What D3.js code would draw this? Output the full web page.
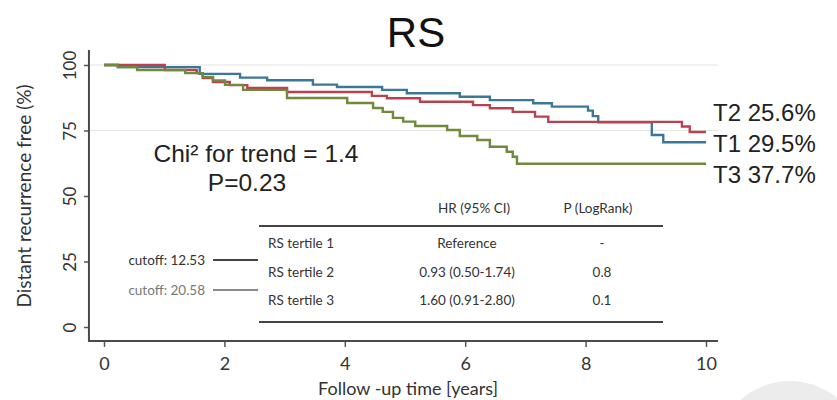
<!DOCTYPE html>
<html>
<head>
<meta charset="utf-8">
<script src="https://cdn.jsdelivr.net/npm/d3@7"></script>
<style>
  html, body { margin: 0; padding: 0; background: #ffffff; }
  svg { display: block; }
</style>
</head>
<body>
<svg id="chart" width="837" height="400"></svg>
<script>
// Kaplan-Meier step curves: event times (years) and survival (%) after each step
const t1Times = [0, 0.23, 1.59, 2.26, 2.71, 3.47, 3.87, 4.62, 5.03, 5.91, 6.41, 7.13, 7.44, 8.04, 8.12, 8.21, 9.10, 9.29, 10];
const t1Surv  = [100, 99.2, 96.6, 95.2, 94.2, 92.5, 91.6, 90.5, 89.2, 87.9, 86.6, 85.4, 84.1, 82.6, 80.5, 78.1, 73.3, 70.5, 70.5];

const t2Times = [0, 1.01, 1.54, 1.64, 1.81, 2.09, 2.38, 3.04, 4.45, 4.70, 5.25, 6.13, 6.41, 6.79, 7.16, 7.38, 9.60, 9.73, 10];
const t2Surv  = [100, 98.1, 96.9, 95.0, 93.5, 92.3, 91.2, 89.7, 88.2, 87.3, 86.0, 84.7, 83.5, 82.1, 80.3, 78.3, 76.5, 74.4, 74.4];

const t3Times = [0, 0.23, 0.55, 1.35, 1.64, 1.81, 2.01, 2.31, 3.04, 4.04, 4.47, 4.63, 4.80, 4.97, 5.17, 5.70, 5.91, 6.20, 6.41, 6.69, 6.79, 6.86, 10];
const t3Surv  = [100, 99.2, 98.1, 96.9, 95.4, 94.1, 92.4, 90.5, 87.4, 85.5, 83.6, 82.1, 79.8, 78.4, 76.7, 75.2, 72.9, 71.4, 68.8, 66.9, 65.0, 62.3, 62.3];

// End-of-curve labels (10-year recurrence)
const endLabels = ["T2 25.6%", "T1 29.5%", "T3 37.7%"];

// Axis ticks
const xTicks = [0, 2, 4, 6, 8, 10];
const yTicks = [0, 25, 50, 75, 100];
const gridValues = [100, 75];

// Hazard-ratio table
const tableHeaders = ["HR (95% CI)", "P (LogRank)"];
const tertileLabels = ["RS tertile 1", "RS tertile 2", "RS tertile 3"];
const hrLabels = ["Reference", "0.93 (0.50-1.74)", "1.60 (0.91-2.80)"];
const pLabels = ["-", "0.8", "0.1"];
const cutoffLabels = ["cutoff: 12.53", "cutoff: 20.58"];

const trendText = ["Chi\u00B2 for trend = 1.4", "P=0.23"];

const svg = d3.select("#chart");

const x = d3.scaleLinear().domain([0, 10]).range([104, 706]);
const y = d3.scaleLinear().domain([0, 100]).range([327, 65]);

// decorative disc in the lower right corner
svg.append("circle")
  .attr("cx", 790).attr("cy", 455).attr("r", 74)
  .attr("fill", "#ececec");

// Title
svg.append("text")
  .attr("x", 416).attr("y", 47)
  .attr("text-anchor", "middle")
  .attr("font-family", "Liberation Sans, Arial, sans-serif")
  .attr("font-size", 42)
  .attr("fill", "#111")
  .text("RS");

// faint reference lines
svg.append("g").selectAll("line")
  .data(gridValues)
  .join("line")
  .attr("x1", x(-0.25)).attr("x2", x(10.2))
  .attr("y1", d => y(d)).attr("y2", d => y(d))
  .attr("stroke", "#e4e4e4").attr("stroke-width", 1.2);

// Axes
const axisY = y(-5.3);
const axisX = x(-0.25);

const xAxis = svg.append("g")
  .attr("transform", `translate(0,${axisY})`)
  .call(d3.axisBottom(x).tickValues(xTicks).tickSize(6).tickSizeOuter(0).tickPadding(10));
xAxis.select(".domain").remove();
xAxis.selectAll(".tick line").attr("stroke", "#555").attr("stroke-width", 1.5);
xAxis.selectAll(".tick text")
  .attr("font-family", "Lato, sans-serif")
  .attr("font-size", 18)
  .attr("fill", "#333");

const yAxis = svg.append("g")
  .attr("transform", `translate(${axisX},0)`)
  .call(d3.axisLeft(y).tickValues(yTicks).tickSize(5).tickSizeOuter(0));
yAxis.select(".domain").remove();
yAxis.selectAll(".tick line").attr("stroke", "#555").attr("stroke-width", 1.5);
yAxis.selectAll(".tick text")
  .attr("transform", "rotate(-90)")
  .attr("x", 0).attr("y", -13).attr("dy", 0)
  .attr("text-anchor", "middle")
  .attr("font-family", "Lato, sans-serif")
  .attr("font-size", 17)
  .attr("fill", "#333");

// L-shaped frame
svg.append("path")
  .attr("d", `M${axisX},${y(105.7)} V${axisY} H${x(10.2)}`)
  .attr("fill", "none")
  .attr("stroke", "#4a4a4a")
  .attr("stroke-width", 2);

// Axis titles
svg.append("text")
  .attr("transform", `translate(31,${y(50)}) rotate(-90)`)
  .attr("text-anchor", "middle")
  .attr("font-family", "Lato, sans-serif")
  .attr("font-size", 19)
  .attr("fill", "#333")
  .text("Distant recurrence free (%)");

svg.append("text")
  .attr("x", x(5.05)).attr("y", 395)
  .attr("text-anchor", "middle")
  .attr("font-family", "Lato, sans-serif")
  .attr("font-size", 18)
  .attr("fill", "#333")
  .text("Follow -up time [years]");

// Survival curves
const line = d3.line()
  .x(d => x(d[0]))
  .y(d => y(d[1]))
  .curve(d3.curveStepAfter);

const series = [
  { times: t1Times, surv: t1Surv, color: "#3b7896" },
  { times: t2Times, surv: t2Surv, color: "#b8424f" },
  { times: t3Times, surv: t3Surv, color: "#6f8a3c" }
];

svg.append("g").selectAll("path")
  .data(series)
  .join("path")
  .attr("d", s => line(s.times.map((t, i) => [t, s.surv[i]])))
  .attr("fill", "none")
  .attr("stroke", s => s.color)
  .attr("stroke-width", 2.4);

// End labels
const endY = [121, 152, 183];
svg.append("g").selectAll("text")
  .data(endLabels)
  .join("text")
  .attr("x", x(10) + 7)
  .attr("y", (d, i) => endY[i])
  .attr("font-family", "Liberation Sans, Arial, sans-serif")
  .attr("font-size", 24)
  .attr("fill", "#222")
  .text(d => d);

// Trend test annotation
svg.append("text")
  .attr("x", 256).attr("y", 162)
  .attr("text-anchor", "middle")
  .attr("font-family", "Liberation Sans, Arial, sans-serif")
  .attr("font-size", 24.5)
  .attr("fill", "#222")
  .text(trendText[0]);
svg.append("text")
  .attr("x", 247).attr("y", 191)
  .attr("text-anchor", "middle")
  .attr("font-family", "Liberation Sans, Arial, sans-serif")
  .attr("font-size", 24.5)
  .attr("fill", "#222")
  .text(trendText[1]);

// Hazard-ratio table
const tbl = svg.append("g")
  .attr("font-family", "Lato, sans-serif")
  .attr("font-size", 13.5)
  .attr("fill", "#333");

const colHR = 467, colP = 602, colLabel = 268;
const rowY = [243, 272, 300];

tbl.append("text").attr("x", 474).attr("y", 213).attr("text-anchor", "middle").text(tableHeaders[0]);
tbl.append("text").attr("x", 598).attr("y", 213).attr("text-anchor", "middle").text(tableHeaders[1]);

tbl.selectAll("line.rule")
  .data([226, 322])
  .join("line")
  .attr("class", "rule")
  .attr("x1", 259).attr("x2", 663)
  .attr("y1", d => d).attr("y2", d => d)
  .attr("stroke", "#444").attr("stroke-width", 2.2);

tbl.selectAll("text.row")
  .data(tertileLabels)
  .join("text")
  .attr("class", "row")
  .attr("x", colLabel).attr("y", (d, i) => rowY[i] + 5)
  .text(d => d);

tbl.selectAll("text.hr")
  .data(hrLabels)
  .join("text")
  .attr("class", "hr")
  .attr("x", colHR).attr("y", (d, i) => rowY[i] + 5)
  .attr("text-anchor", "middle")
  .text(d => d);

tbl.selectAll("text.p")
  .data(pLabels)
  .join("text")
  .attr("class", "p")
  .attr("x", colP).attr("y", (d, i) => rowY[i] + 5)
  .attr("text-anchor", "middle")
  .text(d => d);

// Tertile cutoffs
const cutY = [260, 290];
const cutColor = ["#444", "#8a8a8a"];
tbl.selectAll("text.cut")
  .data(cutoffLabels)
  .join("text")
  .attr("class", "cut")
  .attr("x", 205).attr("y", (d, i) => cutY[i] + 5)
  .attr("text-anchor", "end")
  .attr("fill", (d, i) => i === 0 ? "#333" : "#777")
  .text(d => d);

tbl.selectAll("line.cut")
  .data(cutoffLabels)
  .join("line")
  .attr("class", "cut")
  .attr("x1", 213).attr("x2", 258)
  .attr("y1", (d, i) => cutY[i]).attr("y2", (d, i) => cutY[i])
  .attr("stroke", (d, i) => cutColor[i])
  .attr("stroke-width", 2);
</script>
</body>
</html>
